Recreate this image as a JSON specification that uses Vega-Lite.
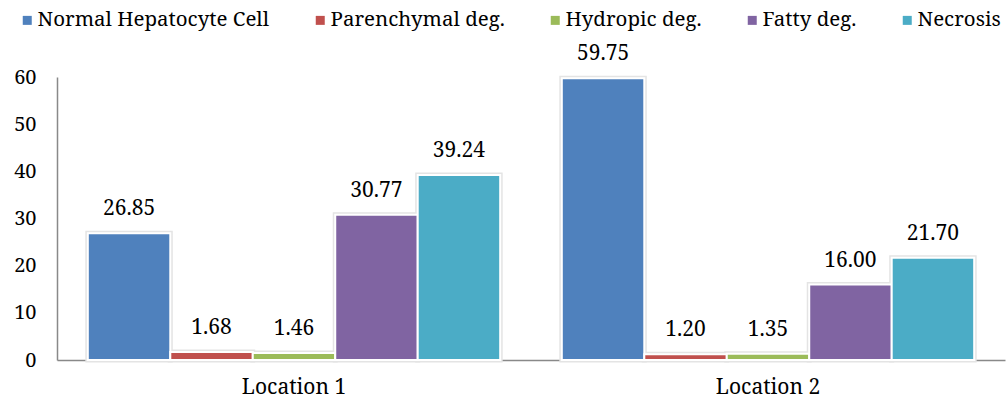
{
  "$schema": "https://vega.github.io/schema/vega-lite/v6.json",
  "width": 948,
  "height": 283,
  "autosize": {"type": "none"},
  "padding": {"left": 57, "top": 77, "right": 2, "bottom": 43},
  "background": "white",
  "config": {
    "view": {"stroke": null},
    "font": "Noto Serif"
  },
  "data": {
    "values": [
      {"loc": "Location 1", "cat": "Normal Hepatocyte Cell", "value": 26.85},
      {"loc": "Location 1", "cat": "Parenchymal deg.", "value": 1.68},
      {"loc": "Location 1", "cat": "Hydropic deg.", "value": 1.46},
      {"loc": "Location 1", "cat": "Fatty deg.", "value": 30.77},
      {"loc": "Location 1", "cat": "Necrosis", "value": 39.24},
      {"loc": "Location 2", "cat": "Normal Hepatocyte Cell", "value": 59.75},
      {"loc": "Location 2", "cat": "Parenchymal deg.", "value": 1.20},
      {"loc": "Location 2", "cat": "Hydropic deg.", "value": 1.35},
      {"loc": "Location 2", "cat": "Fatty deg.", "value": 16.00},
      {"loc": "Location 2", "cat": "Necrosis", "value": 21.70}
    ]
  },
  "encoding": {
    "x": {
      "field": "loc", "type": "nominal",
      "scale": {"paddingInner": 0.13, "paddingOuter": 0.065},
      "axis": {
        "title": null, "labelAngle": 0, "ticks": false,
        "labelFont": "Noto Serif",
        "labelFontSize": 21, "labelColor": "#000", "labelPadding": 16,
        "domainColor": "#898989", "domainWidth": 1.5
      }
    },
    "xOffset": {
      "field": "cat", "type": "nominal",
      "sort": ["Normal Hepatocyte Cell", "Parenchymal deg.", "Hydropic deg.", "Fatty deg.", "Necrosis"],
      "scale": {"paddingInner": 0, "paddingOuter": 0}
    },
    "y": {
      "field": "value", "type": "quantitative",
      "scale": {"domain": [0, 60], "nice": false},
      "axis": {
        "title": null, "grid": false, "ticks": false, "values": [0, 10, 20, 30, 40, 50, 60],
        "labelFont": "Noto Serif",
        "labelFontSize": 20, "labelColor": "#000", "labelPadding": 21,
        "domainColor": "#898989", "domainWidth": 1.5
      }
    }
  },
  "layer": [
    {
      "mark": {"type": "bar", "stroke": "#e4e4e4", "strokeWidth": 5},
      "encoding": {
        "color": {
          "field": "cat", "type": "nominal",
          "scale": {
            "domain": ["Normal Hepatocyte Cell", "Parenchymal deg.", "Hydropic deg.", "Fatty deg.", "Necrosis"],
            "range": ["#4F81BD", "#C0504D", "#9BBB59", "#8064A2", "#4BACC6"]
          },
          "legend": {
            "title": null, "orient": "none", "direction": "horizontal",
            "legendX": -40, "legendY": -67,
            "labelFont": "Noto Serif",
            "symbolType": "square", "symbolSize": 81, "symbolStrokeWidth": 0,
            "labelFontSize": 20.5, "labelColor": "#000", "labelOffset": 0,
            "columnPadding": 40, "labelLimit": 400
          }
        }
      }
    },
    {
      "mark": {"type": "bar", "stroke": "white", "strokeWidth": 2},
      "encoding": {
        "color": {
          "field": "cat", "type": "nominal"
        }
      }
    },
    {
      "mark": {"type": "text", "font": "Noto Serif", "fontSize": 21, "color": "#000", "dy": -18, "baseline": "alphabetic"},
      "encoding": {
        "text": {"field": "value", "type": "quantitative", "format": ".2f"}
      }
    }
  ]
}
